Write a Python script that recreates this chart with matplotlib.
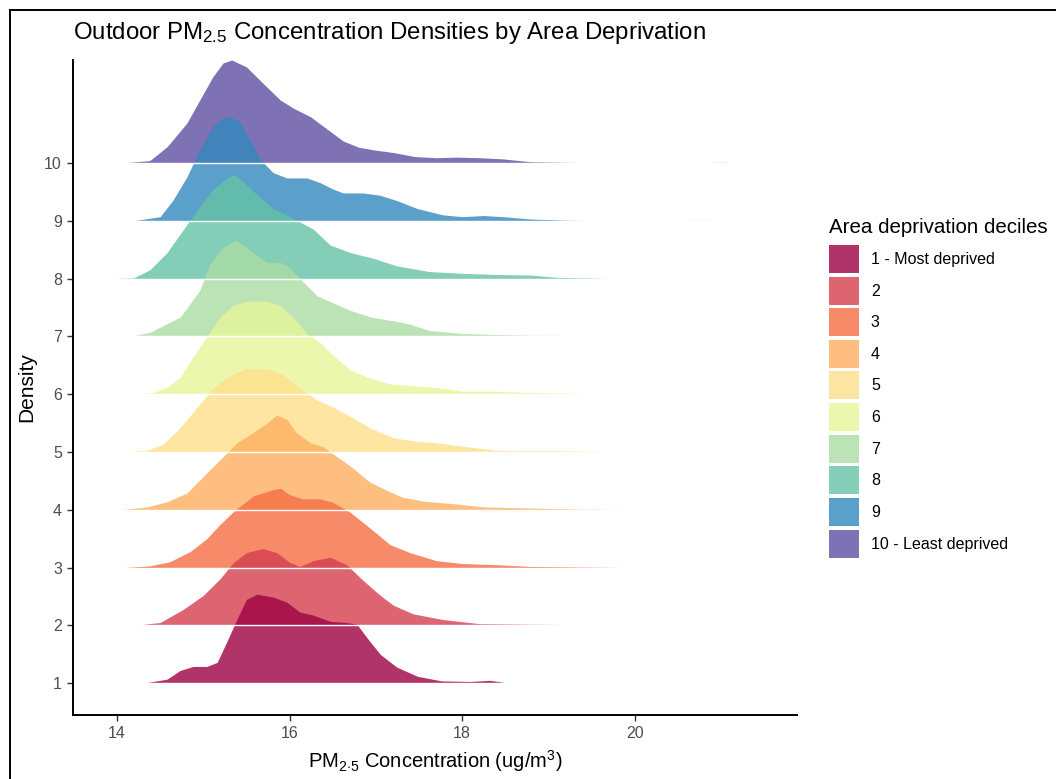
import numpy as np
import matplotlib
matplotlib.use("Agg")
import matplotlib.pyplot as plt
from matplotlib import rc
from matplotlib.patches import Patch
from matplotlib.lines import Line2D

# Ridge outlines: x = PM2.5, h = ridge height in row units
X1 = [14.3, 14.58, 14.73, 14.88, 15.04, 15.16, 15.27, 15.39, 15.5, 15.62, 15.81, 15.97, 16.12,
      16.27, 16.47, 16.66, 16.78, 16.9, 17.05, 17.24, 17.48, 17.76, 18.09, 18.32, 18.55, 18.75]
H1 = [0, 0.07, 0.22, 0.29, 0.29, 0.36, 0.71, 1.11, 1.45, 1.54, 1.49, 1.40, 1.23,
      1.18, 1.07, 1.05, 1.02, 0.78, 0.50, 0.28, 0.12, 0.04, 0.03, 0.05, 0.0, 0.0]

X2 = [14.19, 14.5, 14.77, 15.0, 15.19, 15.35, 15.5, 15.69, 15.85, 16.0, 16.12, 16.27, 16.47,
      16.66, 16.85, 17.05, 17.2, 17.43, 17.78, 18.2, 18.79, 20.5]
H2 = [0, 0.05, 0.28, 0.52, 0.80, 1.09, 1.26, 1.33, 1.26, 1.09, 1.02, 1.12, 1.18,
      1.05, 0.78, 0.52, 0.35, 0.20, 0.10, 0.03, 0.02, 0.0]

X3 = [14.07, 14.38, 14.61, 14.85, 15.04, 15.19, 15.35, 15.58, 15.81, 15.9, 16.0, 16.15, 16.35,
      16.5, 16.7, 16.9, 17.0, 17.16, 17.39, 17.7, 18.0, 18.4, 18.79, 19.95]
H3 = [0, 0.03, 0.10, 0.28, 0.50, 0.74, 0.97, 1.24, 1.35, 1.37, 1.26, 1.19, 1.19,
      1.13, 0.96, 0.72, 0.60, 0.40, 0.26, 0.12, 0.07, 0.05, 0.02, 0.0]

X4 = [14.03, 14.35, 14.58, 14.81, 15.04, 15.23, 15.39, 15.54, 15.74, 15.85, 15.97, 16.08, 16.24,
      16.39, 16.5, 16.7, 16.93, 17.15, 17.3, 17.55, 17.94, 18.24, 18.79, 19.36, 20.5]
H4 = [0, 0.05, 0.14, 0.29, 0.64, 0.92, 1.16, 1.30, 1.50, 1.64, 1.56, 1.33, 1.16,
      1.09, 0.97, 0.76, 0.48, 0.32, 0.22, 0.15, 0.10, 0.05, 0.03, 0.01, 0.0]

X5 = [14.07, 14.35, 14.54, 14.73, 14.92, 15.11, 15.31, 15.5, 15.74, 15.93, 16.12, 16.32, 16.47,
      16.7, 16.95, 17.22, 17.5, 17.7, 18.0, 18.4, 18.79, 19.17, 20.06]
H5 = [0, 0.03, 0.14, 0.42, 0.76, 1.10, 1.33, 1.44, 1.44, 1.33, 1.10, 0.90, 0.80,
      0.62, 0.40, 0.24, 0.18, 0.16, 0.10, 0.03, 0.02, 0.02, 0.0]

X6 = [14.23, 14.42, 14.58, 14.73, 14.88, 15.04, 15.19, 15.35, 15.5, 15.74, 15.89, 16.04, 16.2,
      16.35, 16.5, 16.7, 16.93, 17.16, 17.48, 17.78, 18.0, 18.4, 18.79, 19.17, 19.56, 20.14]
H6 = [0, 0.03, 0.12, 0.29, 0.64, 0.99, 1.33, 1.54, 1.61, 1.61, 1.54, 1.33, 1.05,
      0.90, 0.68, 0.42, 0.28, 0.18, 0.14, 0.10, 0.05, 0.05, 0.03, 0.02, 0.01, 0.0]

X7 = [13.95, 14.19, 14.38, 14.58, 14.73, 14.85, 14.96, 15.08, 15.23, 15.37, 15.5, 15.62, 15.74,
      15.89, 16.0, 16.15, 16.32, 16.47, 16.7, 16.95, 17.2, 17.4, 17.62, 18.0, 18.4, 18.79, 19.56, 20.0]
H7 = [0, 0.01, 0.07, 0.22, 0.33, 0.57, 0.80, 1.26, 1.54, 1.66, 1.54, 1.40, 1.28,
      1.28, 1.19, 0.95, 0.70, 0.60, 0.45, 0.33, 0.27, 0.21, 0.10, 0.05, 0.03, 0.02, 0.01, 0.0]

X8 = [13.95, 14.19, 14.38, 14.58, 14.77, 14.96, 15.11, 15.25, 15.35, 15.46, 15.62, 15.81, 16.04,
      16.27, 16.47, 16.7, 16.97, 17.24, 17.62, 18.0, 18.4, 18.79, 19.1, 19.7]
H8 = [0, 0.01, 0.15, 0.45, 0.85, 1.25, 1.54, 1.71, 1.80, 1.68, 1.45, 1.21, 1.04,
      0.86, 0.58, 0.45, 0.35, 0.22, 0.12, 0.09, 0.07, 0.06, 0.02, 0.0]

X9 = [14.19, 14.5, 14.65, 14.81, 14.96, 15.11, 15.23, 15.31, 15.43, 15.54, 15.66, 15.81, 15.97,
      16.2, 16.35, 16.5, 16.62, 16.85, 17.05, 17.24, 17.48, 17.78, 18.0, 18.24, 18.47, 18.79,
      19.17, 19.56, 20.8, 21.45]
H9 = [0, 0.07, 0.36, 0.76, 1.23, 1.63, 1.78, 1.80, 1.71, 1.40, 1.06, 0.83, 0.74,
      0.74, 0.66, 0.55, 0.48, 0.48, 0.44, 0.35, 0.21, 0.10, 0.07, 0.09, 0.07, 0.03,
      0.01, 0.0, 0.005, 0.0]

X10 = [14.07, 14.38, 14.58, 14.81, 14.96, 15.11, 15.23, 15.33, 15.5, 15.69, 15.89, 16.04, 16.24,
       16.43, 16.62, 16.8, 17.0, 17.2, 17.45, 17.7, 17.94, 18.2, 18.47, 18.79, 19.17, 19.8,
       20.6, 21.0, 21.35]
H10 = [0, 0.04, 0.28, 0.69, 1.09, 1.49, 1.73, 1.78, 1.66, 1.38, 1.09, 0.95, 0.80,
       0.59, 0.38, 0.27, 0.22, 0.18, 0.11, 0.09, 0.10, 0.09, 0.07, 0.02, 0.01, 0.0,
       0.0, 0.01, 0.0]

RIDGES = [(X1, H1), (X2, H2), (X3, H3), (X4, H4), (X5, H5),
          (X6, H6), (X7, H7), (X8, H8), (X9, H9), (X10, H10)]

LABELS = ["1 - Most deprived", "2", "3", "4", "5", "6", "7", "8", "9", "10 - Least deprived"]
COLORS = ["#9e0142", "#d53e4f", "#f46d43", "#fdae61", "#fee08b",
          "#e6f598", "#abdda4", "#66c2a5", "#3288bd", "#5e4fa2"]
ALPHA = 0.8
W, H = 1056, 779


def plot_ridges(fig, ax):
    # Top ridge first, so each lower ridge sits over the one above it
    for i in range(len(RIDGES) - 1, -1, -1):
        x, h = RIDGES[i]
        base = i + 1
        x = np.array(x)
        top = base + np.array(h)
        ax.fill_between(x, base, top, color=COLORS[i], alpha=ALPHA, lw=0, zorder=20 - i)

    # White baselines drawn over all the fills
    for i, (x, h) in enumerate(RIDGES):
        ax.plot([x[0], x[-1]], [i + 1, i + 1], color="white", lw=1.0, zorder=40)

    # Axes look
    ax.set_xlim(13.49, 21.88)
    ax.set_ylim(0.45, 11.78)
    ax.set_xticks([14, 16, 18, 20])
    ax.set_yticks(range(1, 11))
    for s in ["top", "right"]:
        ax.spines[s].set_visible(False)
    for s in ["left", "bottom"]:
        ax.spines[s].set_linewidth(1.4)
        ax.spines[s].set_color("black")
    ax.tick_params(axis="both", colors="#4d4d4d", labelsize=11.5, length=4, width=1.0, pad=4)
    ax.tick_params(axis="both", color="#333333")

    ax.set_xlabel(r"PM$_{2{\cdot}5}$ Concentration (ug/m$^{3}$)", fontsize=14.5, labelpad=5)
    ax.set_ylabel("Density", fontsize=15, labelpad=6)

    fig.text(73 / W, 1 - 39 / H, r"Outdoor PM$_{2.5}$ Concentration Densities by Area Deprivation",
             fontsize=17.3, ha="left", va="baseline")

    # Legend (title drawn as separate text to match the spacing)
    fig.text(829 / W, 1 - 233 / H, "Area deprivation deciles", fontsize=14.8,
             ha="left", va="baseline")
    handles = [Patch(facecolor=COLORS[i], alpha=ALPHA, edgecolor="none") for i in range(10)]
    fig.legend(handles, LABELS, loc="upper left",
               bbox_to_anchor=(829 / W, 1 - 245 / H), frameon=False, fontsize=11.5,
               handlelength=1.875, handleheight=2.315,
               labelspacing=0.23, handletextpad=0.75, borderpad=0, borderaxespad=0)

    # Frame lines at the top and left of the image
    fig.add_artist(Line2D([9.5 / W, 1], [1 - 9.5 / H, 1 - 9.5 / H],
                          transform=fig.transFigure, color="black", lw=1.4))
    fig.add_artist(Line2D([9.5 / W, 9.5 / W], [0, 1 - 9.5 / H],
                          transform=fig.transFigure, color="black", lw=1.4))


def main():
    # Define fonts
    rc("font", family="Liberation Sans")
    rc("mathtext", fontset="custom", rm="Liberation Sans", it="Liberation Sans:italic")

    fig = plt.figure(figsize=(W / 100, H / 100), dpi=100)
    ax = fig.add_axes([73 / W, 1 - 715 / H, (797 - 73) / W, (715 - 60) / H])
    plot_ridges(fig, ax)
    fig.savefig("out.png", dpi=100)


if __name__ == "__main__":
    main()
